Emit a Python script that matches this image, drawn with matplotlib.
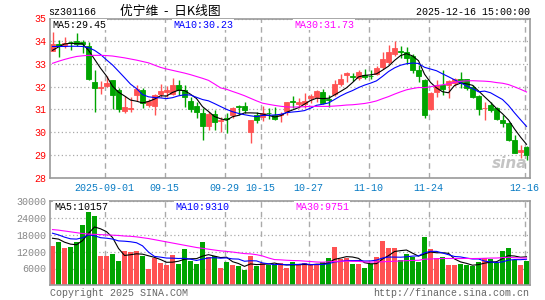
import matplotlib.pyplot as plt
import numpy as np
import pandas as pd

plt.rcParams['font.family'] = ['Liberation Mono', 'DejaVu Sans Mono']

# daily K-line of sz301166, 80 trading days (2025-08-19 .. 2025-12-16)
opens = [33.57, 33.88, 33.85, 33.97, 33.99, 33.95, 33.80, 32.20, 31.94, 32.05,
         32.28, 31.87, 30.95, 31.00, 31.62, 31.85, 31.18, 31.16, 31.70, 31.75,
         31.70, 32.07, 31.85, 31.37, 31.15, 30.83, 30.29, 30.79, 30.50, 30.63,
         30.76, 31.15, 31.17, 30.03, 30.76, 30.69, 30.85, 30.76, 30.75, 30.93,
         31.39, 31.22, 31.25, 31.49, 31.56, 31.78, 31.47, 31.66, 32.10, 32.51,
         32.46, 32.40, 32.51, 32.49, 32.58, 32.88, 33.10, 33.42, 33.56, 33.53,
         33.36, 32.73, 32.29, 31.02, 31.78, 32.07, 32.07, 32.15, 32.36, 32.32,
         32.00, 31.59, 31.05, 31.20, 31.05, 30.54, 30.39, 29.66, 29.15, 29.35]
highs = [34.40, 34.04, 34.20, 34.02, 34.35, 34.05, 33.95, 32.75, 32.25, 32.45,
         32.30, 31.95, 31.60, 31.55, 32.06, 31.95, 31.47, 31.70, 32.10, 32.05,
         32.40, 32.29, 32.07, 31.56, 31.34, 31.05, 30.90, 30.98, 30.66, 30.83,
         31.12, 31.20, 31.31, 30.55, 30.90, 31.17, 31.05, 31.12, 30.90, 31.34,
         31.60, 31.49, 31.71, 31.66, 31.85, 31.88, 31.64, 32.29, 32.54, 32.66,
         32.61, 32.73, 32.80, 32.73, 32.92, 33.53, 33.82, 34.00, 33.80, 33.75,
         33.46, 32.95, 32.36, 31.78, 32.29, 32.73, 32.29, 32.38, 32.66, 32.36,
         32.07, 31.64, 31.34, 31.34, 31.10, 30.76, 30.47, 29.88, 29.45, 29.40]
lows = [33.55, 33.30, 33.72, 33.60, 33.80, 33.48, 32.30, 30.90, 31.70, 32.00,
        31.03, 30.90, 30.83, 30.88, 31.38, 31.05, 31.12, 30.75, 31.55, 31.55,
        31.64, 31.64, 31.12, 30.90, 30.61, 29.66, 30.10, 30.10, 30.03, 29.96,
        30.61, 30.75, 30.83, 29.52, 30.39, 30.50, 30.60, 30.55, 30.47, 30.76,
        31.05, 31.05, 31.05, 31.30, 31.34, 31.22, 31.12, 31.60, 32.05, 32.22,
        32.25, 32.30, 32.36, 32.36, 32.50, 32.80, 33.00, 33.35, 33.27, 33.00,
        32.60, 32.22, 30.61, 30.98, 31.56, 31.64, 31.49, 32.05, 31.93, 31.85,
        31.49, 30.76, 30.54, 30.90, 30.54, 30.25, 29.60, 29.08, 28.86, 28.80]
closes = [33.89, 33.80, 33.92, 33.95, 33.90, 33.88, 32.36, 31.96, 31.98, 32.17,
          31.65, 31.04, 31.13, 31.08, 31.92, 31.27, 31.36, 31.65, 31.82, 31.85,
          32.07, 31.85, 31.56, 31.02, 30.90, 30.29, 30.79, 30.44, 30.54, 30.58,
          31.05, 31.10, 30.98, 30.54, 30.54, 30.83, 30.83, 30.60, 30.80, 31.31,
          31.35, 31.34, 31.37, 31.60, 31.81, 31.27, 31.42, 32.10, 32.36, 32.61,
          32.43, 32.66, 32.44, 32.47, 32.83, 33.24, 33.53, 33.71, 33.53, 33.27,
          32.73, 32.48, 30.76, 31.71, 32.07, 31.88, 32.25, 32.36, 32.22, 31.93,
          31.56, 31.02, 31.08, 30.98, 30.58, 30.40, 29.66, 29.10, 29.20, 28.98]
volume = [14200, 15300, 13500, 13800, 15600, 21600, 28300, 24900, 10500, 10500,
          11200, 8700, 12400, 11800, 12100, 10600, 5800, 9600, 7900, 7200,
          10800, 7500, 13100, 8700, 7500, 15300, 10100, 10500, 6100, 8200,
          7300, 6800, 5400, 10500, 7000, 7900, 7200, 7200, 7900, 6100,
          8200, 7200, 7900, 7200, 7200, 8200, 9900, 13800, 9500, 9800,
          7500, 7500, 6100, 7500, 10100, 15700, 13500, 13500, 9100, 11200,
          10100, 8200, 17200, 12800, 9800, 10100, 7200, 7200, 7500, 7200,
          6800, 8200, 9800, 9400, 7900, 12400, 13500, 9100, 7200, 8700]

# moving-average values at the left edge (they depend on days before the chart)
ma5_head = [33.60, 33.75, 33.88, 33.91]
ma10_head = [33.77, 33.77, 33.77, 33.78, 33.78, 33.77, 33.72, 33.60, 33.42]
ma30_head = [33.03, 33.12, 33.20, 33.27, 33.33, 33.36, 33.38, 33.38, 33.38, 33.37,
             33.35, 33.31, 33.27, 33.22, 33.17, 33.11, 33.05, 32.95, 32.85, 32.78,
             32.72, 32.66, 32.60, 32.53, 32.45, 32.37, 32.28, 32.12, 31.95]
vma5_head = [16800, 16500, 15400, 14700]
vma10_head = [18600, 18000, 17200, 16600, 16500, 17000, 18000, 17700, 17000]
vma30_head = [19900, 19700, 19400, 19100, 18800, 18500, 18300, 18200, 18100, 18000,
              17900, 17800, 17600, 17500, 17300, 17000, 16700, 16300, 15900, 15500,
              15100, 14700, 14300, 13900, 13500, 13200, 12900, 12600, 12300]

# legend values as printed on the chart
price_ma_text = ['MA5:29.45', 'MA10:30.23', 'MA30:31.73']
vol_ma_text = ['MA5:10157', 'MA10:9310', 'MA30:9751']

tick_idx = [9, 19, 29, 35, 43, 53, 63, 79]
tick_labels = ['2025-09-01', '09-15', '09-29', '10-15', '10-27', '11-10', '11-24', '12-16']

RED = '#ff5252'
GREEN = '#00a400'
FRAME = '#9a9a9a'
MA_COLORS = ['black', '#0000ff', '#ff00ff']


def moving(vals, n, head):
    ma = pd.Series(vals, dtype=float).rolling(n).mean().to_numpy()
    ma[:len(head)] = head
    return ma


x = np.arange(len(closes))
o = np.array(opens)
c = np.array(closes)
colors = np.where(c >= o, RED, GREEN)

fig = plt.figure(figsize=(5.45, 3.0), dpi=100)
W, H = 545.0, 300.0
ax = fig.add_axes([50 / W, 1 - 177.7 / H, 479.5 / W, 159.2 / H])
axv = fig.add_axes([50 / W, 1 - 285.3 / H, 479.5 / W, 84 / H])

grid_x = np.array(tick_idx) - 0.3
for a in (ax, axv):
    a.set_xlim(-0.42, 79.5)
    for s in a.spines.values():
        s.set_color(FRAME)
        s.set_linewidth(1.2)
    a.set_xticks(grid_x)
    a.tick_params(length=0, labelsize=7.2, pad=2.5)
    a.grid(axis='x', color='#aaaaaa', linestyle=(0, (4, 3)), lw=1)
    a.grid(axis='y', color='#aaaaaa', linestyle=(0, (1, 2)), lw=0.9)
    a.set_axisbelow(True)

# price panel
ax.vlines(x, lows, highs, colors=colors, lw=1, zorder=2)
ax.bar(x, np.abs(c - o), bottom=np.minimum(o, c), width=0.8, color=colors,
       edgecolor=colors, linewidth=0.6, zorder=2)
for n, head, col in zip((5, 10, 30), (ma5_head, ma10_head, ma30_head), MA_COLORS):
    ax.plot(x, moving(closes, n, head), color=col, lw=0.8, zorder=3)
ax.set_ylim(28, 35)
ax.set_yticks(range(28, 36))
ax.tick_params(axis='y', labelcolor='#ff0000')
ax.set_xticklabels(tick_labels, color='#0a7cc4')
ax.tick_params(axis='x', pad=4)
ax.text(0.995, 0.04, 'sina', transform=ax.transAxes, ha='right', va='bottom',
        fontsize=11, fontweight='bold', style='italic', color='#c4c4c4',
        family='DejaVu Sans', zorder=1)

# volume panel
axv.bar(x, volume, width=0.83, color=colors, zorder=2)
for n, head, col in zip((5, 10, 30), (vma5_head, vma10_head, vma30_head), MA_COLORS):
    axv.plot(x, moving(volume, n, head), color=col, lw=0.8, zorder=3)
axv.set_ylim(0, 30000)
axv.set_yticks([6000, 12000, 18000, 24000, 30000])
axv.tick_params(axis='y', labelcolor='#888888')
axv.set_xticklabels([])

box = dict(facecolor='white', edgecolor='none', pad=0.6)
fs = 7.2
for txt, px, col in zip(price_ma_text, (52, 173, 294), MA_COLORS):
    fig.text(px / W, 1 - 24.5 / H, txt, color=col, fontsize=fs, va='center', bbox=box)
for txt, px, col in zip(vol_ma_text, (54, 175, 295), MA_COLORS):
    fig.text(px / W, 1 - 206.5 / H, txt, color=col, fontsize=fs, va='center', bbox=box)

fig.text(48 / W, 1 - 12 / H, 'sz301166', fontsize=fs, va='center')
fig.text(120 / W, 1 - 11 / H, '优宁维  -  日K线图', fontsize=9.2, va='center',
         family=['Noto Sans CJK SC', 'DejaVu Sans'])
fig.text(530 / W, 1 - 12 / H, '2025-12-16 15:00:00', fontsize=fs, va='center', ha='right')
fig.text(50 / W, 1 - 292.5 / H, 'Copyright 2025 SINA.COM', fontsize=fs, va='center', color='#666666')
fig.text(529 / W, 1 - 292.5 / H, 'http://finance.sina.com.cn', fontsize=fs, va='center',
         ha='right', color='#666666')

fig.savefig('out.png', dpi=100)
